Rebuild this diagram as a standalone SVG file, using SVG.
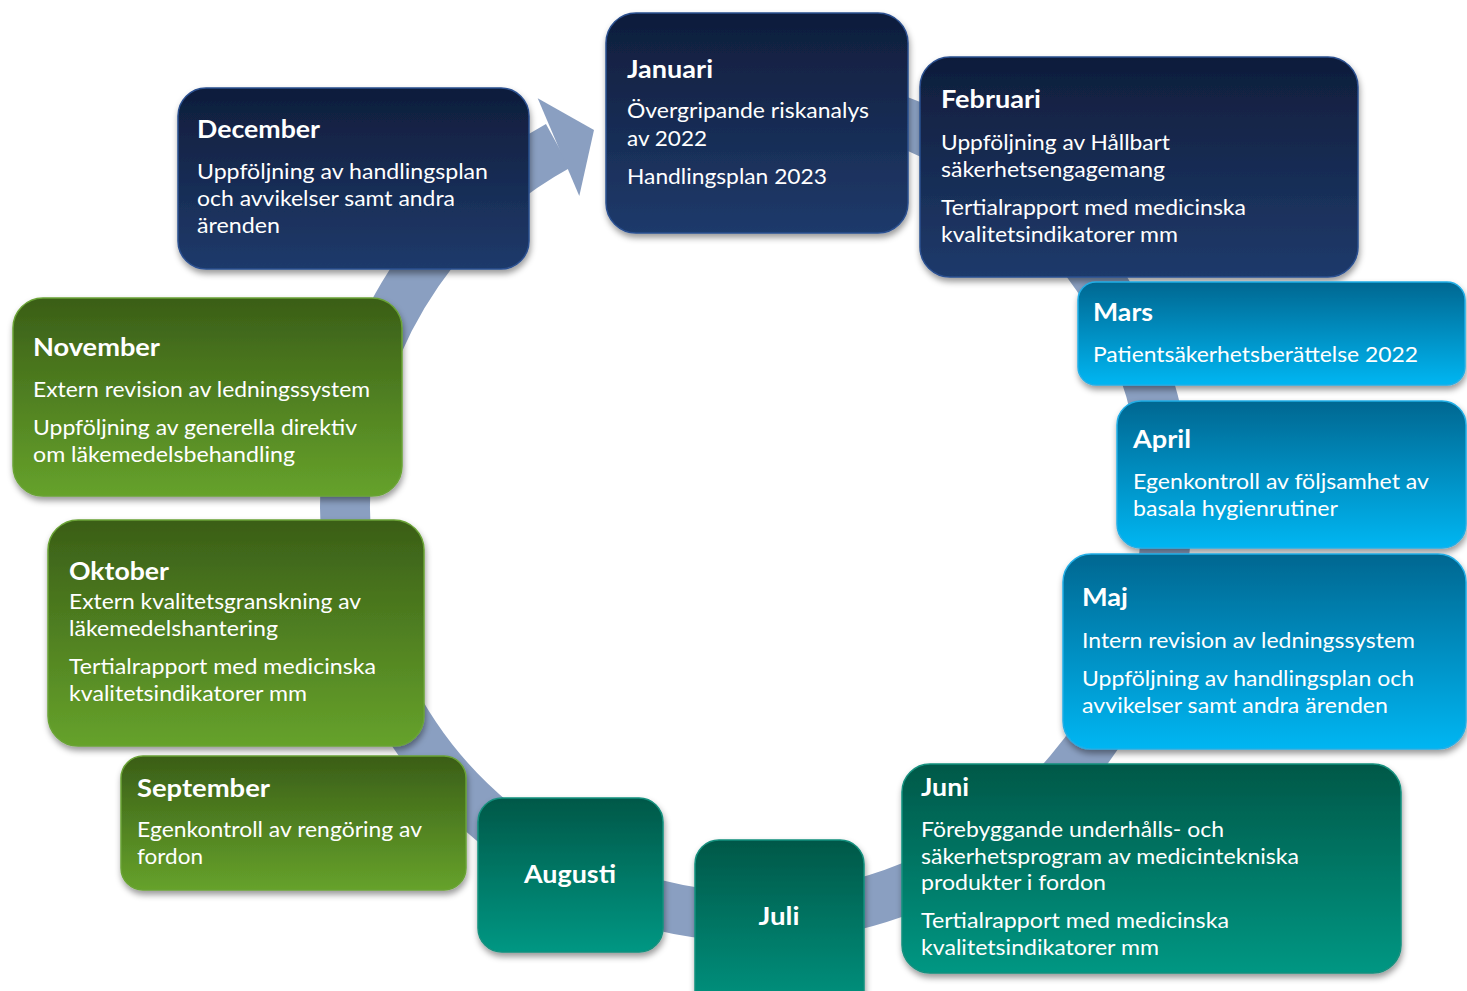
<svg xmlns="http://www.w3.org/2000/svg" width="1467" height="991" viewBox="0 0 1467 991">
<defs>
<linearGradient id="gNavy" x1="0" y1="0" x2="0" y2="1"><stop offset="0" stop-color="#0f1d3b"/><stop offset="1" stop-color="#1f3a6b"/></linearGradient>
<linearGradient id="gBlue" x1="0" y1="0" x2="0" y2="1"><stop offset="0" stop-color="#006791"/><stop offset="1" stop-color="#00b6f2"/></linearGradient>
<linearGradient id="gGreen" x1="0" y1="0" x2="0" y2="1"><stop offset="0" stop-color="#3a5e17"/><stop offset="1" stop-color="#66a22b"/></linearGradient>
<linearGradient id="gTeal" x1="0" y1="0" x2="0" y2="1"><stop offset="0" stop-color="#005848"/><stop offset="1" stop-color="#009783"/></linearGradient>
<filter id="sh" x="-10%" y="-10%" width="120%" height="130%"><feDropShadow dx="1" dy="4" stdDeviation="3" flood-color="#000" flood-opacity="0.4"/></filter>
</defs>
<style>
.box{filter:url(#sh);stroke-width:1.5}
.navy{fill:url(#gNavy);stroke:#2a4f8f}
.blue{fill:url(#gBlue);stroke:#22aee6}
.green{fill:url(#gGreen);stroke:#6aa336}
.teal{fill:url(#gTeal);stroke:#15907e}
text{font-family:Lato,"Open Sans","Liberation Sans",sans-serif;fill:#ffffff}
.h{font-size:24px;font-weight:700}
.t{font-size:22px}
.band{fill:none;stroke:#8a9fc1;stroke-width:50}
</style>
<g id="connectors">
<path class="band" d="M684.6,101.2 A411,411 0 1 1 558.0,145.8"/>
<polygon points="537.7,98.3 594,130 579.3,196" fill="#8a9fc1"/>
</g>
<g id="december">
<rect class="box navy" x="178" y="88" width="351" height="181" rx="28"/>
<text class="h" x="197" y="138" textLength="123" lengthAdjust="spacingAndGlyphs">December</text>
<text class="t" x="197" y="179" textLength="291" lengthAdjust="spacingAndGlyphs">Uppföljning av handlingsplan</text>
<text class="t" x="197" y="206" textLength="258" lengthAdjust="spacingAndGlyphs">och avvikelser samt andra</text>
<text class="t" x="197" y="233" textLength="83" lengthAdjust="spacingAndGlyphs">ärenden</text>
</g>
<g id="januari">
<rect class="box navy" x="606" y="13" width="302" height="220" rx="30"/>
<text class="h" x="627" y="78" textLength="86" lengthAdjust="spacingAndGlyphs">Januari</text>
<text class="t" x="627" y="118" textLength="242" lengthAdjust="spacingAndGlyphs">Övergripande riskanalys</text>
<text class="t" x="627" y="146" textLength="80" lengthAdjust="spacingAndGlyphs">av 2022</text>
<text class="t" x="627" y="184" textLength="200" lengthAdjust="spacingAndGlyphs">Handlingsplan 2023</text>
</g>
<g id="februari">
<rect class="box navy" x="920" y="57" width="438" height="220" rx="30"/>
<text class="h" x="941" y="108" textLength="100" lengthAdjust="spacingAndGlyphs">Februari</text>
<text class="t" x="941" y="150" textLength="229" lengthAdjust="spacingAndGlyphs">Uppföljning av Hållbart</text>
<text class="t" x="941" y="177" textLength="224" lengthAdjust="spacingAndGlyphs">säkerhetsengagemang</text>
<text class="t" x="941" y="215" textLength="305" lengthAdjust="spacingAndGlyphs">Tertialrapport med medicinska</text>
<text class="t" x="941" y="242" textLength="237" lengthAdjust="spacingAndGlyphs">kvalitetsindikatorer mm</text>
</g>
<g id="mars">
<rect class="box blue" x="1078" y="282" width="387" height="103" rx="18"/>
<text class="h" x="1093" y="321" textLength="60" lengthAdjust="spacingAndGlyphs">Mars</text>
<text class="t" x="1093" y="362" textLength="325" lengthAdjust="spacingAndGlyphs">Patientsäkerhetsberättelse  2022</text>
</g>
<g id="april">
<rect class="box blue" x="1117" y="401" width="349" height="147" rx="24"/>
<text class="h" x="1133" y="448" textLength="58" lengthAdjust="spacingAndGlyphs">April</text>
<text class="t" x="1133" y="489" textLength="296" lengthAdjust="spacingAndGlyphs">Egenkontroll av följsamhet av</text>
<text class="t" x="1133" y="516" textLength="205" lengthAdjust="spacingAndGlyphs">basala hygienrutiner</text>
</g>
<g id="maj">
<rect class="box blue" x="1063" y="554" width="403" height="195" rx="28"/>
<text class="h" x="1082" y="606" textLength="46" lengthAdjust="spacingAndGlyphs">Maj</text>
<text class="t" x="1082" y="648" textLength="333" lengthAdjust="spacingAndGlyphs">Intern revision av ledningssystem</text>
<text class="t" x="1082" y="686" textLength="332" lengthAdjust="spacingAndGlyphs">Uppföljning av handlingsplan och</text>
<text class="t" x="1082" y="713" textLength="306" lengthAdjust="spacingAndGlyphs">avvikelser samt andra ärenden</text>
</g>
<g id="juni">
<rect class="box teal" x="902" y="764" width="499" height="209" rx="28"/>
<text class="h" x="921" y="796" textLength="48" lengthAdjust="spacingAndGlyphs">Juni</text>
<text class="t" x="921" y="837" textLength="303" lengthAdjust="spacingAndGlyphs">Förebyggande underhålls- och</text>
<text class="t" x="921" y="864" textLength="378" lengthAdjust="spacingAndGlyphs">säkerhetsprogram av medicintekniska</text>
<text class="t" x="921" y="890" textLength="185" lengthAdjust="spacingAndGlyphs">produkter i fordon</text>
<text class="t" x="921" y="928" textLength="308" lengthAdjust="spacingAndGlyphs">Tertialrapport med medicinska</text>
<text class="t" x="921" y="955" textLength="238" lengthAdjust="spacingAndGlyphs">kvalitetsindikatorer mm</text>
</g>
<g id="juli">
<rect class="box teal" x="695" y="840" width="169" height="180" rx="24"/>
<text class="h" x="779" y="925" text-anchor="middle" textLength="41" lengthAdjust="spacingAndGlyphs">Juli</text>
</g>
<g id="augusti">
<rect class="box teal" x="478" y="798" width="185" height="154" rx="24"/>
<text class="h" x="570" y="883" text-anchor="middle" textLength="92" lengthAdjust="spacingAndGlyphs">Augusti</text>
</g>
<g id="september">
<rect class="box green" x="121" y="756" width="345" height="134" rx="22"/>
<text class="h" x="137" y="797" textLength="133" lengthAdjust="spacingAndGlyphs">September</text>
<text class="t" x="137" y="837" textLength="285" lengthAdjust="spacingAndGlyphs">Egenkontroll av rengöring av</text>
<text class="t" x="137" y="864" textLength="66" lengthAdjust="spacingAndGlyphs">fordon</text>
</g>
<g id="oktober">
<rect class="box green" x="48" y="520" width="376" height="226" rx="30"/>
<text class="h" x="69" y="580" textLength="100" lengthAdjust="spacingAndGlyphs">Oktober</text>
<text class="t" x="69" y="609" textLength="292" lengthAdjust="spacingAndGlyphs">Extern kvalitetsgranskning av</text>
<text class="t" x="69" y="636" textLength="209" lengthAdjust="spacingAndGlyphs">läkemedelshantering</text>
<text class="t" x="69" y="674" textLength="307" lengthAdjust="spacingAndGlyphs">Tertialrapport med medicinska</text>
<text class="t" x="69" y="701" textLength="238" lengthAdjust="spacingAndGlyphs">kvalitetsindikatorer mm</text>
</g>
<g id="november">
<rect class="box green" x="13" y="298" width="389" height="198" rx="30"/>
<text class="h" x="33" y="356" textLength="127" lengthAdjust="spacingAndGlyphs">November</text>
<text class="t" x="33" y="397" textLength="337" lengthAdjust="spacingAndGlyphs">Extern revision av ledningssystem</text>
<text class="t" x="33" y="435" textLength="324" lengthAdjust="spacingAndGlyphs">Uppföljning av generella direktiv</text>
<text class="t" x="33" y="462" textLength="262" lengthAdjust="spacingAndGlyphs">om läkemedelsbehandling</text>
</g>
</svg>
